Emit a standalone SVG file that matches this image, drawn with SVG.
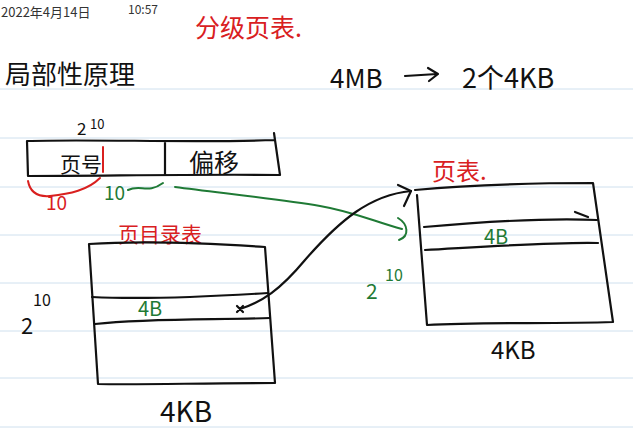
<svg xmlns="http://www.w3.org/2000/svg" width="633" height="430" viewBox="0 0 633 430">
<style>
.rule{stroke:#cfe0ee;stroke-width:1}
.ink{fill:none;stroke:#111;stroke-width:2.2;stroke-linecap:round;stroke-linejoin:round}
.red{fill:none;stroke:#d9201f;stroke-width:2;stroke-linecap:round;stroke-linejoin:round}
.grn{fill:none;stroke:#1f7a35;stroke-width:2;stroke-linecap:round;stroke-linejoin:round}
.t{font-family:"Noto Sans CJK SC","Liberation Sans",sans-serif;font-weight:400}
.tb{fill:#111}
.tr{fill:#d9201f}
.tg{fill:#1f7a35}
</style>
<rect width="633" height="430" fill="#fff"/>
<g id="ruling">
<line class="rule" x1="0" y1="89" x2="633" y2="89"/>
<line class="rule" x1="0" y1="138" x2="633" y2="138"/>
<line class="rule" x1="0" y1="187" x2="633" y2="187"/>
<line class="rule" x1="0" y1="235" x2="633" y2="235"/>
<line class="rule" x1="0" y1="283" x2="633" y2="283"/>
<line class="rule" x1="0" y1="331" x2="633" y2="331"/>
<line class="rule" x1="0" y1="378" x2="633" y2="378"/>
<line class="rule" x1="0" y1="427" x2="633" y2="427"/>
</g>
<g id="header">
<text class="t" x="1" y="17" font-size="13" fill="#333">2022年4月14日</text>
<text class="t" x="128" y="14" font-size="12" fill="#333">10:57</text>
<text class="t tr" x="195" y="37" font-size="25">分级页表.</text>
<text class="t tb" x="5" y="84" font-size="26">局部性原理</text>
<text class="t tb" x="330" y="88" font-size="26">4MB</text>
<path class="ink" d="M405,76 L437,74 M428,68 L438,74 L429,81"/>
<text class="t tb" x="462" y="88" font-size="27">2个4KB</text>
</g>
<g id="address">
<text class="t tb" x="77" y="135" font-size="17">2</text>
<text class="t tb" x="90" y="129" font-size="13">10</text>
<path class="ink" d="M27,141 C90,139 200,143 275,140 L274,133 M275,140 L280,175 C200,174 100,176 28,176 L27,141 M165,142 L165,175"/>
<text class="t tb" x="60" y="172" font-size="21">页号</text>
<text class="t tb" x="189" y="172" font-size="25">偏移</text>
<path class="red" d="M103,147 L103,172"/>
<path class="red" d="M28,181 C30,192 38,197 50,196 C70,194 88,190 100,178"/>
<text class="t tr" x="46" y="210" font-size="19">10</text>
<text class="t tg" x="104" y="200" font-size="19">10</text>
<path class="grn" d="M128,190 C140,184 148,194 163,183"/>
</g>
<g id="directory">
<text class="t tr" x="118" y="242" font-size="21">页目录表</text>
<path class="ink" d="M89,244 C150,240 220,244 265,247 L275,383 C200,383 140,385 98,384 L89,244"/>
<path class="ink" d="M92,297 C150,300 220,296 268,293"/>
<path class="ink" d="M95,324 C150,318 220,320 270,318"/>
<text class="t tg" x="138" y="316" font-size="20">4B</text>
<text class="t tb" x="21" y="334" font-size="22">2</text>
<text class="t tb" x="33" y="306" font-size="16">10</text>
<text class="t tb" x="160" y="422" font-size="28">4KB</text>
</g>
<g id="pagetable">
<text class="t tr" x="432" y="180" font-size="24">页表.</text>
<path class="ink" d="M415,190 C480,184 550,183 593,183 L613,322 C550,324 480,322 427,325 L417,195"/>
<path class="ink" d="M424,227 C480,222 550,218 597,220"/>
<path class="ink" d="M425,250 C480,247 550,242 598,243"/>
<path class="ink" d="M575,212 L588,217" stroke-width="1.5"/>
<text class="t tg" x="484" y="244" font-size="20">4B</text>
<text class="t tg" x="366" y="299" font-size="21">2</text>
<text class="t tg" x="385" y="281" font-size="16">10</text>
<text class="t tb" x="491" y="359" font-size="24">4KB</text>
</g>
<g id="connectors">
<path class="grn" d="M175,187 C220,193 280,199 320,206 C355,212 375,222 402,229"/>
<path class="grn" d="M398,218 C408,224 410,236 399,240"/>
<path class="ink" d="M240,309 C262,302 280,290 305,260 C340,220 370,195 411,191"/>
<path class="ink" d="M398,185 L411,191 L404,206"/>
<path class="ink" d="M237,306 L243,312 M243,306 L237,312" stroke-width="1.6"/>
</g>
</svg>
